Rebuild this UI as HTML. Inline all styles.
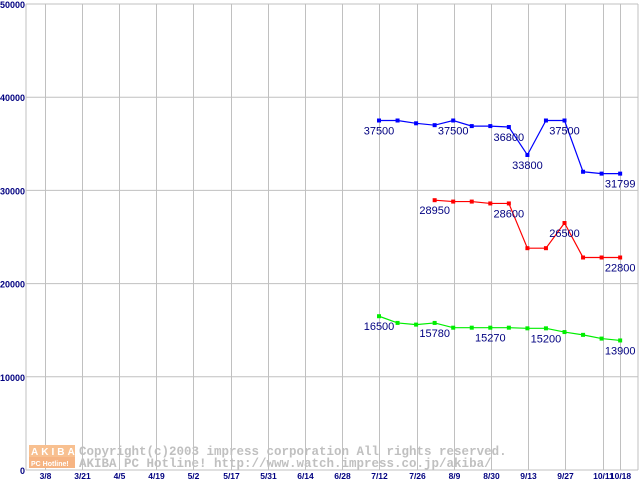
<!DOCTYPE html>
<html><head><meta charset="utf-8"><style>
body{margin:0;background:#fff;width:640px;height:480px;overflow:hidden}
svg text{font-family:"Liberation Sans",sans-serif}
svg text.mono{font-family:"Liberation Mono",monospace}
</style></head><body>
<svg id="chart" width="640" height="480" xmlns="http://www.w3.org/2000/svg">
<g id="grid"></g>
<g id="wm">
<rect x="29" y="445" width="46" height="12" fill="#f8c090"/>
<rect x="29" y="457" width="46" height="11" fill="#f6b483"/>
<text x="31" y="455" font-size="10" fill="#fff" font-weight="bold" letter-spacing="3">AKIBA</text>
<text x="31" y="466" font-size="7" fill="#fff" font-weight="bold">PC Hotline!</text>
<text class="mono" x="79" y="455" font-size="12.5" fill="#c0c0c0" font-weight="bold">Copyright(c)2003 impress corporation All rights reserved.</text>
<text class="mono" x="79" y="467" font-size="12.5" fill="#c0c0c0" font-weight="bold">AKIBA PC Hotline!  http://www.watch.impress.co.jp/akiba/</text>
</g>
<g id="series"></g>
</svg>
<script>
const xLabels=["3/8","3/21","4/5","4/19","5/2","5/17","5/31","6/14","6/28","7/12","7/26","8/9","8/30","9/13","9/27","10/11","10/18"];
const yTicks=[0,10000,20000,30000,40000,50000];
const blue=[37500,37500,37200,37000,37500,36900,36900,36800,33800,37500,37500,32000,31799,31799];
const blueLabels=[0,4,7,8,10,13];
const red=[null,null,null,28950,28800,28800,28600,28600,23800,23800,26500,22800,22800,22800];
const redLabels=[3,7,10,13];
const green=[16500,15780,15600,15780,15270,15270,15270,15270,15200,15200,14800,14500,14100,13900];
const greenLabels=[0,3,6,9,13];
const NS="http://www.w3.org/2000/svg";
const L=26,R=638,T=4,B=470;
function y(v){return B-(v/50000)*(B-T);}
function xg(i){return i<16?44.5+i*37.2:620;}
function xp(i){return 379+i*18.55;}
function mk(tag,at,parent){const e=document.createElementNS(NS,tag);for(const k in at)e.setAttribute(k,at[k]);parent.appendChild(e);return e;}
const g=document.getElementById('grid');
yTicks.forEach(v=>{
 const l=mk('line',{x1:L,x2:R,y1:y(v),y2:y(v),stroke:'#c0c0c0','stroke-width':1},g);
 
 
 const t=mk('text',{x:L-1,y:y(v)+4,'text-anchor':'end','font-size':9,'font-weight':'bold',fill:'#000080'},g);
 t.textContent=v;
 
 
});
mk('line',{x1:L,x2:L,y1:T,y2:B,stroke:'#c0c0c0'},g);
mk('line',{x1:R,x2:R,y1:T,y2:B,stroke:'#c0c0c0'},g);
xLabels.forEach((s,i)=>{
 const x=Math.round(xg(i))+0.5;
 const l=mk('line',{x1:x,x2:x,y1:T,y2:B,stroke:'#c0c0c0'},g);
 
 
 const t=mk('text',{x:x,y:479,'text-anchor':'middle','font-size':8.5,'font-weight':'bold',fill:'#000080'},g);
 t.textContent=s;
 
 
});
const sg=document.getElementById('series');
function draw(vals,labels,color,name){
 const pts=[];vals.forEach((v,i)=>{if(v!=null)pts.push([xp(i),y(v),v,i]);});
 const pl=mk('polyline',{points:pts.map(p=>p[0]+','+p[1]).join(' '),fill:'none',stroke:color,'stroke-width':1.2},sg);
 
 
 pts.forEach(p=>{
  const r=mk('rect',{x:p[0]-2,y:p[1]-2,width:4,height:4,fill:color},sg);
  
  
 });
 pts.forEach(p=>{
  if(labels.indexOf(p[3])<0)return;
  const t=mk('text',{x:p[0],y:p[1]+14,'text-anchor':'middle','font-size':11,fill:'#000080'},sg);
  t.textContent=p[2];
  
  
 });
}
draw(blue,blueLabels,'#0000ff','blue-series');
draw(red,redLabels,'#ff0000','red-series');
draw(green,greenLabels,'#00ee00','green-series');
</script>
</body></html>
